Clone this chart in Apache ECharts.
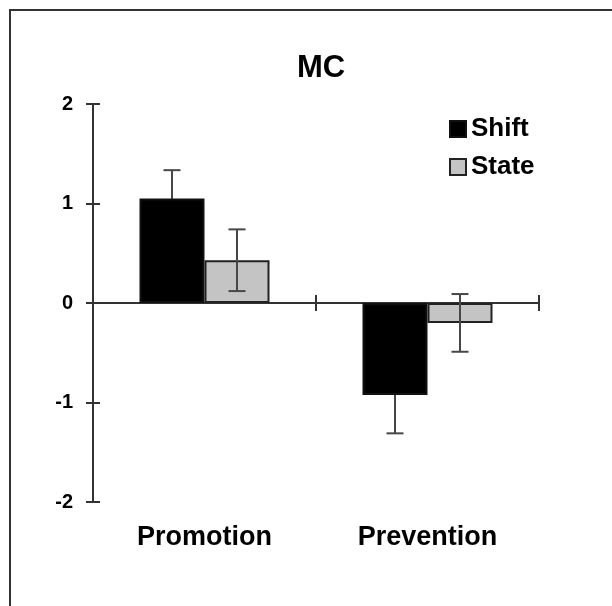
<!DOCTYPE html>
<html>
<head>
<meta charset="utf-8">
<script src="https://cdn.jsdelivr.net/npm/echarts@6/dist/echarts.min.js"></script>
<style>
  html, body { margin: 0; padding: 0; background: #ffffff; }
  #chart { width: 612px; height: 606px; }
</style>
</head>
<body>
<div id="chart"></div>
<script>
// Data
const categories = ['Promotion', 'Prevention'];
const seriesNames = ['Shift', 'State'];
const shiftValues = [1.05, -0.925];
const shiftErrors = [0.285, 0.385];
const stateValues = [0.43, -0.2];
const stateErrors = [0.31, 0.29];
const yMin = -2;
const yMax = 2;
const yStep = 1;

// Styling
const FONT = '"Liberation Sans", Arial, sans-serif';
const AXIS_COLOR = '#333333';
const ERR_COLOR = '#474747';
const BAR_W = 65;
const CAP_W = 17;

function errorData(values, errors) {
  return values.map((v, i) => [i, v - errors[i], v + errors[i]]);
}

function errorRenderer(side) {
  return function (params, api) {
    const idx = api.value(0);
    const hi = api.coord([idx, api.value(2)]);
    const lo = api.coord([idx, api.value(1)]);
    const x = hi[0] + side * BAR_W / 2;
    const st = { stroke: ERR_COLOR, lineWidth: 2 };
    return {
      type: 'group',
      children: [
        { type: 'line', shape: { x1: x, y1: hi[1], x2: x, y2: lo[1] }, style: st },
        { type: 'line', shape: { x1: x - CAP_W / 2, y1: hi[1], x2: x + CAP_W / 2, y2: hi[1] }, style: st },
        { type: 'line', shape: { x1: x - CAP_W / 2, y1: lo[1], x2: x + CAP_W / 2, y2: lo[1] }, style: st }
      ]
    };
  };
}

const chart = echarts.init(document.getElementById('chart'), null, { renderer: 'canvas' });

const baseX = {
  type: 'category',
  position: 'bottom',
  data: categories,
  boundaryGap: true,
  axisLabel: { show: false },
  splitLine: { show: false }
};
const baseY = {
  type: 'value',
  position: 'left',
  min: yMin,
  max: yMax,
  interval: yStep,
  splitLine: { show: false }
};

chart.setOption({
  backgroundColor: '#ffffff',
  animation: false,
  title: {
    text: 'MC',
    left: 292,
    top: 48,
    textStyle: { fontFamily: FONT, fontWeight: 'bold', fontSize: 31, color: '#000' }
  },
  legend: {
    orient: 'vertical',
    left: 444,
    top: 111,
    itemWidth: 16,
    itemHeight: 16,
    itemGap: 12,
    icon: 'rect',
    data: seriesNames,
    textStyle: { fontFamily: FONT, fontWeight: 'bold', fontSize: 26, color: '#000' }
  },
  graphic: [{
    type: 'rect',
    shape: { x: 10, y: 10, width: 700, height: 700 },
    style: { fill: 'none', stroke: '#333333', lineWidth: 2 },
    silent: true
  }],
  grid: { left: 93, right: 73, top: 104, bottom: 104 },
  xAxis: [
    Object.assign({}, baseX, {
      axisLine: { show: true, onZero: true, lineStyle: { color: AXIS_COLOR, width: 2 } },
      axisTick: { show: true, inside: false, length: 8, lineStyle: { color: AXIS_COLOR, width: 2 } }
    }),
    Object.assign({}, baseX, {
      axisLine: { show: false, onZero: true },
      axisTick: { show: true, inside: true, length: 8, lineStyle: { color: AXIS_COLOR, width: 2 } }
    }),
    Object.assign({}, baseX, {
      axisLine: { show: false, onZero: false },
      axisTick: { show: false },
      axisLabel: { show: true, margin: 22, fontFamily: FONT, fontWeight: 'bold', fontSize: 27, color: '#000' }
    })
  ],
  yAxis: [
    Object.assign({}, baseY, {
      axisLine: { show: true, lineStyle: { color: AXIS_COLOR, width: 2 } },
      axisTick: { show: true, inside: false, length: 7, lineStyle: { color: AXIS_COLOR, width: 2 } },
      axisLabel: { margin: 20, fontFamily: FONT, fontWeight: 'bold', fontSize: 20, color: '#000', padding: [3, 0, 0, 0] }
    }),
    Object.assign({}, baseY, {
      axisLine: { show: false },
      axisTick: { show: true, inside: true, length: 7, lineStyle: { color: AXIS_COLOR, width: 2 } },
      axisLabel: { show: false }
    })
  ],
  series: [
    {
      name: 'Shift',
      type: 'bar',
      xAxisIndex: 0,
      yAxisIndex: 0,
      data: shiftValues,
      barWidth: BAR_W,
      barGap: '0%',
      z: 2,
      itemStyle: { color: '#000000', borderColor: '#111111', borderWidth: 2 }
    },
    {
      name: 'State',
      type: 'bar',
      xAxisIndex: 0,
      yAxisIndex: 0,
      data: stateValues,
      barWidth: BAR_W,
      barGap: '0%',
      z: 2,
      itemStyle: { color: '#c4c4c4', borderColor: '#222222', borderWidth: 2 }
    },
    {
      name: 'Shift error',
      type: 'custom',
      xAxisIndex: 0,
      yAxisIndex: 0,
      z: 1,
      data: errorData(shiftValues, shiftErrors),
      renderItem: errorRenderer(-1)
    },
    {
      name: 'State error',
      type: 'custom',
      xAxisIndex: 0,
      yAxisIndex: 0,
      z: 3,
      data: errorData(stateValues, stateErrors),
      renderItem: errorRenderer(1)
    }
  ]
});
</script>
</body>
</html>
